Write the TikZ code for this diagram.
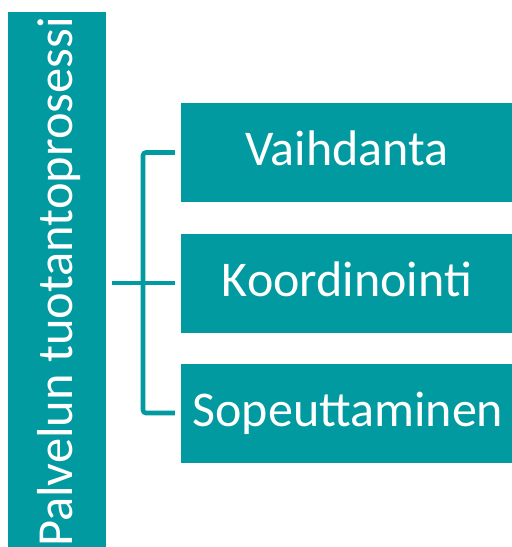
\documentclass[tikz,border=0pt]{standalone}
\usepackage{fontspec}
\setmainfont{Carlito}
\definecolor{teal1}{HTML}{009AA0}
\begin{document}
\begin{tikzpicture}[x=1pt,y=-1pt,
  box/.style={fill=teal1, draw=none, inner sep=0pt, minimum width=331pt, minimum height=99pt},
  lbl/.style={text=white, font=\fontsize{50}{53}\selectfont, inner sep=0pt, anchor=base},
  conn/.style={draw=teal1, line width=4.6pt}]
\useasboundingbox (0,0) rectangle (512,547);
\node[fill=teal1, inner sep=0pt, minimum width=98pt, minimum height=535pt] (L) at (57,279.5) {};
\node[lbl, rotate=90, font=\fontsize{50.5}{53}\selectfont] (Lt) at (72,282) {Palvelun tuotantoprosessi};
\node[box] (A) at (346.5,152.5) {};
\node[box] (B) at (346.5,283) {};
\node[box] (C) at (346.5,413) {};
\node[lbl] (At) at (347,165) {Vaihdanta};
\node[lbl] (Bt) at (347,296) {Koordinointi};
\node[lbl] (Ct) at (348,426) {Sopeuttaminen};
\coordinate (bx) at (143,283);
\draw[conn] ([xshift=6pt]L.east |- B.west) -- ([xshift=-6pt]B.west);
\draw[conn, rounded corners=3pt] ([xshift=-6pt]A.west) -| (bx) |- ([xshift=-6pt]C.west);
\end{tikzpicture}
\end{document}
